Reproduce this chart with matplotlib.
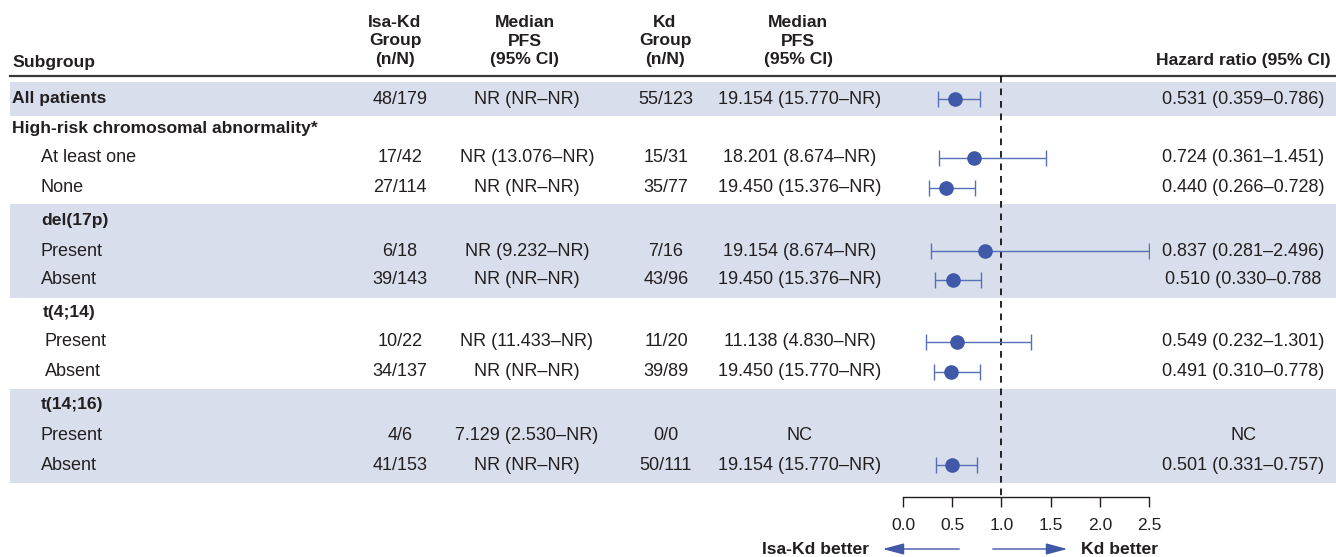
import numpy as np
import matplotlib
matplotlib.use("Agg")
from matplotlib import pyplot as plt

plt.rcParams['font.family'] = ['Liberation Sans', 'DejaVu Sans']

####################################### data
labels = ['All patients', 'High-risk chromosomal abnormality*', 'At least one', 'None',
          'del(17p)', 'Present', 'Absent', 't(4;14)', 'Present', 'Absent',
          't(14;16)', 'Present', 'Absent']
isa_n = ['48/179', '', '17/42', '27/114', '', '6/18', '39/143', '', '10/22', '34/137',
         '', '4/6', '41/153']
isa_pfs = ['NR (NR\u2013NR)', '', 'NR (13.076\u2013NR)', 'NR (NR\u2013NR)', '',
           'NR (9.232\u2013NR)', 'NR (NR\u2013NR)', '', 'NR (11.433\u2013NR)', 'NR (NR\u2013NR)',
           '', '7.129 (2.530\u2013NR)', 'NR (NR\u2013NR)']
kd_n = ['55/123', '', '15/31', '35/77', '', '7/16', '43/96', '', '11/20', '39/89',
        '', '0/0', '50/111']
kd_pfs = ['19.154 (15.770\u2013NR)', '', '18.201 (8.674\u2013NR)', '19.450 (15.376\u2013NR)', '',
          '19.154 (8.674\u2013NR)', '19.450 (15.376\u2013NR)', '', '11.138 (4.830\u2013NR)',
          '19.450 (15.770\u2013NR)', '', 'NC', '19.154 (15.770\u2013NR)']
hr = [0.531, None, 0.724, 0.440, None, 0.837, 0.510, None, 0.549, 0.491, None, None, 0.501]
hr_lo = [0.359, None, 0.361, 0.266, None, 0.281, 0.330, None, 0.232, 0.310, None, None, 0.331]
hr_hi = [0.786, None, 1.451, 0.728, None, 2.496, 0.788, None, 1.301, 0.778, None, None, 0.757]
hr_txt = ['0.531 (0.359\u20130.786)', '', '0.724 (0.361\u20131.451)', '0.440 (0.266\u20130.728)', '',
          '0.837 (0.281\u20132.496)', '0.510 (0.330\u20130.788', '', '0.549 (0.232\u20131.301)',
          '0.491 (0.310\u20130.778)', '', 'NC', '0.501 (0.331\u20130.757)']
ticks = [0.0, 0.5, 1.0, 1.5, 2.0, 2.5]

####################################### layout (pixels)
row_y = [99, 128, 158, 188, 221, 251, 280, 312, 342, 372, 404, 435, 465]
label_x = [12, 12, 41, 41, 41, 41, 41, 43, 45, 45, 41, 41, 41]
bold = [True, True, False, False, True, False, False, True, False, False, True, False, False]
bands = [(82, 116), (204, 298), (389, 483)]
col_x = [400, 527, 666, 800, 1243]

txt = '#231f20'
blue = '#3f58a8'
band_col = '#d8deeb'
fs = 13
fsb = 12.6

fig = plt.figure(figsize=(13.36, 5.57), dpi=100)
tab = fig.add_axes([0, 0, 1, 1])
tab.set_xlim(0, 1336)
tab.set_ylim(557, 0)
tab.axis('off')

for y0, y1 in bands:
    tab.axhspan(y0, y1, xmin=10 / 1336, xmax=1, color=band_col, lw=0, zorder=0)
tab.plot([10, 1336], [76, 76], color='#3a3a3a', lw=1.6)

####################################### headers
hkw = dict(fontsize=fsb, fontweight='bold', color=txt, ha='center', va='center', linespacing=1.32)
tab.text(12, 62, 'Subgroup', fontsize=fsb, fontweight='bold', color=txt, va='center')
tab.text(395, 41, 'Isa-Kd\nGroup\n(n/N)', **hkw)
tab.text(525, 41, 'Median\nPFS\n(95% CI)', **hkw)
tab.text(665, 41, 'Kd\nGroup\n(n/N)', **hkw)
tab.text(798, 41, 'Median\nPFS\n(95% CI)', **hkw)
tab.text(1243, 60, 'Hazard ratio (95% CI)', **hkw)

####################################### rows
for i, lab in enumerate(labels):
    y = row_y[i]
    tab.text(label_x[i], y, lab, color=txt, va='center',
             fontsize=fsb if bold[i] else fs, fontweight='bold' if bold[i] else 'normal')
    for x, col in zip(col_x, [isa_n, isa_pfs, kd_n, kd_pfs, hr_txt]):
        tab.text(x, y, col[i], fontsize=fs, color=txt, ha='center', va='center')

####################################### forest plot
ax = fig.add_axes([903 / 1336, 0, 246 / 1336, 1])
ax.patch.set_alpha(0)
ax.set_xlim(0, 2.5)
ax.set_ylim(557, 0)
for s in ['top', 'left', 'right']:
    ax.spines[s].set_visible(False)
ax.spines['bottom'].set_position(('data', 497))
ax.spines['bottom'].set_color(txt)
ax.spines['bottom'].set_linewidth(1.0)
ax.set_yticks([])
ax.set_xticks(ticks)
ax.set_xticklabels(['%.1f' % t for t in ticks])
ax.tick_params(axis='x', direction='out', length=7, width=1.0, colors=txt,
               labelsize=12.6, pad=8)

ax.vlines(1.0, 76, 497, colors='black', linestyles=(0, (4, 3.5)), lw=1.2)

for i in range(len(labels)):
    if hr[i] is None:
        continue
    ax.errorbar(hr[i], row_y[i], xerr=[[hr[i] - hr_lo[i]], [hr_hi[i] - hr[i]]],
                fmt='o', color=blue, ecolor='#5570b8', elinewidth=1.0, capsize=6,
                capthick=1.0, markersize=9.5)

####################################### arrows
tab.annotate('', xy=(880, 549), xytext=(962, 549),
             arrowprops=dict(arrowstyle='-|>,head_length=1.3,head_width=0.35', color=blue, lw=1.0))
tab.annotate('', xy=(1070, 549), xytext=(990, 549),
             arrowprops=dict(arrowstyle='-|>,head_length=1.3,head_width=0.35', color=blue, lw=1.0))
tab.text(869, 549, 'Isa-Kd better', fontsize=fsb, fontweight='bold', color=txt, ha='right', va='center')
tab.text(1081, 549, 'Kd better', fontsize=fsb, fontweight='bold', color=txt, ha='left', va='center')

fig.savefig('out.png', dpi=100)
